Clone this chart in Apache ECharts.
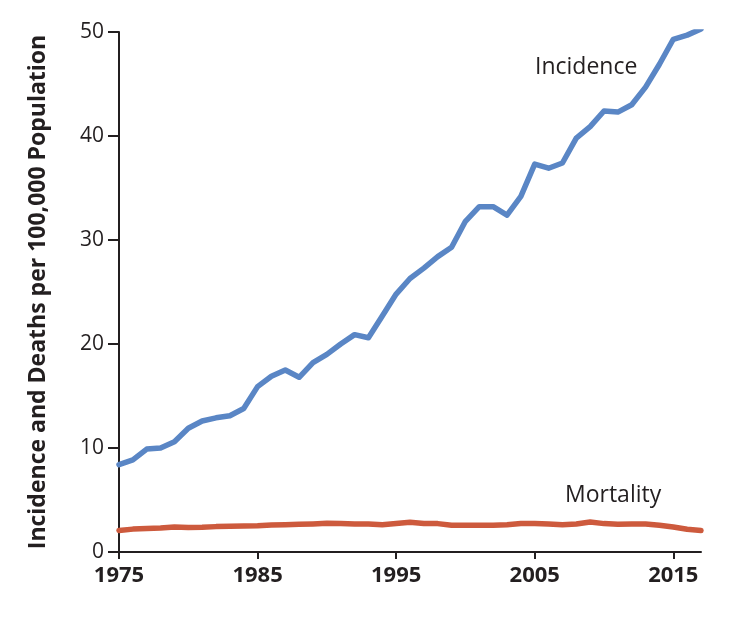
<!DOCTYPE html>
<html>
<head>
<meta charset="utf-8">
<script src="https://cdn.jsdelivr.net/npm/echarts@6/dist/echarts.min.js"></script>
<style>
html,body{margin:0;padding:0;background:#fff;}
#chart{width:730px;height:618px;}
</style>
</head>
<body>
<div id="chart"></div>
<script>
const years = [];
for (let y = 1975; y <= 2017; y++) years.push(String(y));

const incidence = [
  8.4, 8.85, 9.9, 10.0, 10.6, 11.9, 12.6, 12.9, 13.1, 13.8,
  15.9, 16.9, 17.5, 16.8, 18.2, 19.0, 20.0, 20.9, 20.6, 22.7,
  24.8, 26.3, 27.3, 28.4, 29.3, 31.8, 33.2, 33.2, 32.4, 34.2,
  37.3, 36.9, 37.4, 39.8, 40.9, 42.4, 42.3, 43.0, 44.7, 46.9,
  49.3, 49.7, 50.3
];

const mortality = [
  2.06, 2.2, 2.25, 2.3, 2.4, 2.35, 2.37, 2.44, 2.47, 2.5,
  2.53, 2.6, 2.63, 2.66, 2.7, 2.76, 2.73, 2.7, 2.7, 2.63,
  2.73, 2.85, 2.73, 2.73, 2.57, 2.57, 2.57, 2.57, 2.63, 2.73,
  2.73, 2.7, 2.63, 2.7, 2.88, 2.73, 2.66, 2.7, 2.7, 2.57,
  2.4, 2.18, 2.06
];

const yTicks = [0, 10, 20, 30, 40, 50];
const seriesNames = ['Incidence', 'Mortality'];
const yAxisTitle = 'Incidence and Deaths per 100,000 Population';

const FONT = '"Open Sans", "Noto Sans", sans-serif';
const INK = '#231f20';

const chart = echarts.init(document.getElementById('chart'), null, {renderer: 'canvas'});
chart.setOption({
  animation: false,
  backgroundColor: '#ffffff',
  grid: {left: 119, right: 29, top: 32, bottom: 66, containLabel: false},
  xAxis: {
    type: 'category',
    data: years,
    boundaryGap: false,
    axisLine: {show: true, lineStyle: {color: INK, width: 2}},
    axisTick: {show: true, length: 7, lineStyle: {color: INK, width: 2},
      interval: function (i) { return i % 10 === 0; }},
    axisLabel: {show: true, margin: 13, color: INK, fontFamily: FONT, fontWeight: 'bold', fontSize: 22,
      interval: function (i) { return i % 10 === 0; }},
    splitLine: {show: false}
  },
  yAxis: {
    type: 'value',
    min: yTicks[0],
    max: yTicks[yTicks.length - 1],
    interval: 10,
    name: yAxisTitle,
    nameLocation: 'middle',
    nameGap: 69,
    nameTextStyle: {color: INK, fontFamily: FONT, fontWeight: 'bold', fontSize: 23},
    axisLine: {show: true, lineStyle: {color: INK, width: 2}},
    axisTick: {show: true, inside: false, length: 11, lineStyle: {color: INK, width: 2}},
    axisLabel: {show: true, margin: 15, color: INK, fontFamily: FONT, fontSize: 21},
    splitLine: {show: false}
  },
  series: [
    {
      name: seriesNames[0],
      type: 'line',
      data: incidence,
      showSymbol: false,
      smooth: false,
      lineStyle: {color: '#5a86c5', width: 5.5, cap: 'round', join: 'round'},
      z: 3
    },
    {
      name: seriesNames[1],
      type: 'line',
      data: mortality,
      showSymbol: false,
      smooth: false,
      lineStyle: {color: '#cd5a3d', width: 5.5, cap: 'round', join: 'round'},
      z: 2
    }
  ],
  graphic: [
    {type: 'text', left: 535, top: 56, style: {text: seriesNames[0], fill: INK, font: '23px ' + FONT}},
    {type: 'text', left: 565, top: 484, style: {text: seriesNames[1], fill: INK, font: '23px ' + FONT}}
  ]
});
</script>
</body>
</html>
